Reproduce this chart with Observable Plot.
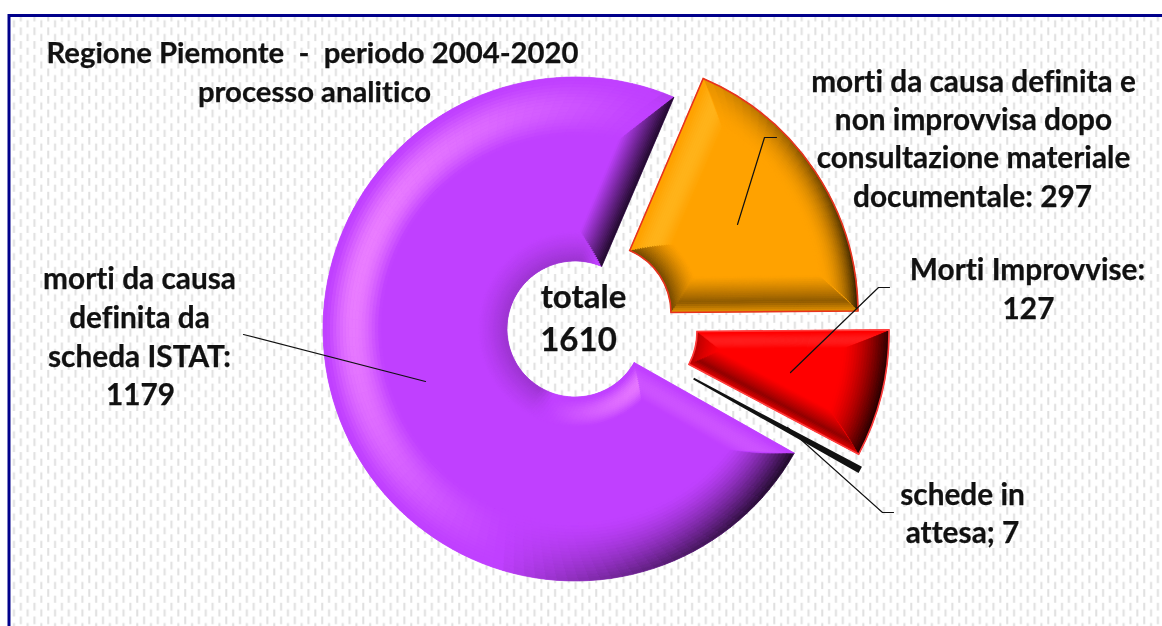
<!DOCTYPE html>
<html>
<head>
<meta charset="utf-8">
<script src="https://cdn.jsdelivr.net/npm/d3@7"></script>
<script src="https://cdn.jsdelivr.net/npm/@observablehq/plot@0.6"></script>
<style>
html,body{margin:0;padding:0;background:#fff;}
svg{display:block;}
</style>
</head>
<body>
<div id="chart"></div>
<script>
// ---- data ----
const categories = [
  "morti da causa definita da scheda ISTAT",
  "morti da causa definita e non improvvisa dopo consultazione materiale documentale",
  "Morti Improvvise",
  "schede in attesa"
];
const values = [1179, 297, 127, 7];
const total = 1610;

// ---- layout (chart space, px) ----
const W = 1162, H = 626;
const firstAngle = 119.5 * Math.PI / 180;
const holes = [68, 68, 69, 68];
const radii = [252, 255, 261, 258];
const centers = [[575, 329], [603, 313], [628, 332], [634, 346]];
const colors = ["#c040ff", "#ffa200", "#ff0000", "#111111"];
const lights = ["#ff9cff", "#ffe060", "#ff9090", "#111111"];
const outlines = [null, "#e8321e", "#ff3b3b", null];
const bevels = [
  {bo: 58, bi: 30, b0: 30, b1: 34, s0: 0.3, s1: -0.9, glow: 0.7, po: 1.4, ps: 1.0, lift: false, inner: s => Math.max(s, -0.2)},
  {bo: 36, bi: 30, b0: 38, b1: 36, s0: 0.55, s1: -0.72, glow: 0.5, po: 2.2, ps: 1.2, lift: true, inner: () => -0.6},
  {bo: 46, bi: 24, b0: 18, b1: 26, s0: 0.4, s1: -0.72, glow: 0.5, po: 1.5, ps: 1.2, lift: true, inner: () => -0.3},
  null
];
const titleLines = [
  {t: "Regione Piemonte  -  periodo 2004-2020", x: 312, y: 53},
  {t: "processo analitico", x: 314, y: 92}
];
const labelLines = [
  {t: "morti da causa definita e", x: 973, y: 82},
  {t: "non improvvisa dopo", x: 973, y: 120},
  {t: "consultazione materiale", x: 973, y: 158},
  {t: "documentale: 297", x: 972, y: 197},
  {t: "Morti Improvvise:", x: 1027, y: 270},
  {t: "127", x: 1028, y: 309},
  {t: "schede in", x: 962, y: 495},
  {t: "attesa; 7", x: 962, y: 533},
  {t: "morti da causa", x: 139, y: 279},
  {t: "definita da", x: 139, y: 318},
  {t: "scheda ISTAT:", x: 139, y: 357},
  {t: "1179", x: 140, y: 395}
];
const centerLines = [
  {t: "totale", x: 583, y: 297},
  {t: String(total), x: 578, y: 340}
];
const leaders = [
  {k: 0, x: 243, y: 334}, {k: 0, x: 425, y: 381},
  {k: 1, x: 737, y: 224}, {k: 1, x: 764, y: 137}, {k: 1, x: 776, y: 137},
  {k: 2, x: 790, y: 372}, {k: 2, x: 878, y: 287}, {k: 2, x: 889, y: 287},
  {k: 3, x: 787, y: 427}, {k: 3, x: 882, y: 512}, {k: 3, x: 893, y: 512}
];

// ---- slices ----
const arcs = d3.pie().sort(null).startAngle(firstAngle).endAngle(firstAngle + 2 * Math.PI)(values);
const slices = arcs.map((a, i) => ({
  name: categories[i], value: a.value, a0: a.startAngle, a1: a.endAngle, R: radii[i], r: holes[i],
  cx: centers[i][0], cy: centers[i][1], color: colors[i], light: lights[i], outline: outlines[i], bevel: bevels[i]
}));

const L = [-0.9, -0.3];
function shade(base, light, s, t, glow, pow, lift) {
  if (s >= 0) {
    const hump = Math.pow(Math.sin(Math.PI * Math.min(1, t * 1.05)), 1.2);
    return d3.interpolateRgb(base, light)(glow * s * hump);
  }
  let f = Math.pow(t, pow);
  if (lift && t > 0.72) f = Math.pow(0.72, pow) * (1 - 0.75 * (t - 0.72) / 0.28);
  return d3.interpolateRgb(base, "#000000")(0.92 * Math.min(1, -s) * f);
}
function sliceRender(index, scales, values, dims, ctx) {
  const g = d3.create("svg:g");
  const k = scales.x(1) - scales.x(0);
  for (const i of index) {
    const d = slices[i], cx = values.x[i], cy = values.y[i], R = d.R, r = d.r;
    const P = (rho, th) => [cx + k * rho * Math.sin(th), cy - k * rho * Math.cos(th)];
    const quad = (pts, fill) => g.append("path")
      .attr("d", "M" + pts.map(p => p[0].toFixed(2) + "," + p[1].toFixed(2)).join("L") + "Z")
      .attr("fill", fill).attr("stroke", fill).attr("stroke-width", 0.7);
    const arc = d3.arc();
    const full = arc({innerRadius: r * k, outerRadius: R * k, startAngle: d.a0, endAngle: d.a1});
    g.append("path").attr("transform", `translate(${cx},${cy})`).attr("d", full).attr("fill", d.color);
    const b = d.bevel;
    if (b) {
      const M = 18;
      const lerp = (u, v, t) => u + (v - u) * t;
      const ro = R - b.bo, ri = r + b.bi;
      const N = Math.ceil((d.a1 - d.a0) / (2.5 * Math.PI / 180));
      for (let m = 0; m < M; m++) {
        const t0 = m / M, t1 = (m + 1) / M, tm = (t0 + t1) / 2;
        for (let n = 0; n < N; n++) {
          const u0 = n / N, u1 = (n + 1) / N, um = (u0 + u1) / 2;
          const th = (t, u) => lerp(lerp(d.a0 + b.b0 / ro, d.a0, t), lerp(d.a1 - b.b1 / ro, d.a1, t), u);
          const rh = t => lerp(ro, R, t);
          const tm_ = th(tm, um);
          const s = Math.sin(tm_) * L[0] - Math.cos(tm_) * L[1];
          quad([P(rh(t0), th(t0, u0)), P(rh(t1), th(t1, u0)), P(rh(t1), th(t1, u1)), P(rh(t0), th(t0, u1))],
            shade(d.color, d.light, s, tm, b.glow, b.po, false));
          const thi = (t, u) => lerp(lerp(d.a0 + b.b0 / ri, d.a0, t), lerp(d.a1 - b.b1 / ri, d.a1, t), u);
          const rhi = t => lerp(ri, r, t);
          const ti = thi(tm, um);
          const si = b.inner(-(Math.sin(ti) * L[0] - Math.cos(ti) * L[1]));
          quad([P(rhi(t0), thi(t0, u0)), P(rhi(t1), thi(t1, u0)), P(rhi(t1), thi(t1, u1)), P(rhi(t0), thi(t0, u1))],
            shade(d.color, d.light, si, tm, b.glow, 1.3, false));
        }
        const side = (edge, sign, bw, s) => {
          const ai = P(ri, edge + sign * bw / ri), ao = P(ro, edge + sign * bw / ro);
          const ei = P(r, edge), eo = P(R, edge);
          const mix = (p, q, t) => [lerp(p[0], q[0], t), lerp(p[1], q[1], t)];
          quad([mix(ai, ei, t0), mix(ao, eo, t0), mix(ao, eo, t1), mix(ai, ei, t1)],
            shade(d.color, d.light, s, tm, b.glow, b.ps, b.lift));
        };
        side(d.a0, 1, b.b0, b.s0);
        side(d.a1, -1, b.b1, b.s1);
      }
    }
    if (d.outline) {
      g.append("path").attr("transform", `translate(${cx},${cy})`).attr("d", full)
        .attr("fill", "none").attr("stroke", d.outline).attr("stroke-width", 1.6);
    }
  }
  return g.node();
}

function patternDefs() {
  const g = d3.create("svg:defs");
  const p = g.append("pattern").attr("id", "dashes").attr("patternUnits", "userSpaceOnUse")
    .attr("width", 13.7).attr("height", 13.7);
  p.append("rect").attr("width", 13.7).attr("height", 13.7).attr("fill", "#ffffff");
  p.append("rect").attr("x", 6.1).attr("y", -0.3).attr("width", 2).attr("height", 8).attr("fill", "#e0e0e0");
  p.append("rect").attr("x", -0.75).attr("y", 6.55).attr("width", 2).attr("height", 8).attr("fill", "#e0e0e0");
  p.append("rect").attr("x", 12.95).attr("y", 6.55).attr("width", 2).attr("height", 8).attr("fill", "#e0e0e0");
  return g.node();
}

const font = "Lato, Carlito, Calibri, sans-serif";
const textStyle = {fontWeight: 700, fill: "#111111", stroke: "#111111", strokeWidth: 0.25};
const chart = Plot.plot({
  width: W, height: H,
  margin: 0,
  style: {background: "#ffffff", fontFamily: font, filter: "blur(0.55px)", fontVariantLigatures: "none"},
  x: {domain: [0, W], range: [0, W], axis: null},
  y: {domain: [0, H], range: [0, H], axis: null},
  marks: [
    patternDefs,
    Plot.rect([0], {x1: () => 9, y1: () => 15.5, x2: () => 1180, y2: () => 650,
      fill: "url(#dashes)", stroke: "#00008b", strokeWidth: 3}),
    Plot.dot(slices, {x: "cx", y: "cy", render: sliceRender}),
    Plot.line(leaders, {x: "x", y: "y", z: "k", stroke: "#111111", strokeWidth: 1.2}),
    Plot.text(titleLines, {x: "x", y: "y", text: "t", fontSize: 29.3, ...textStyle}),
    Plot.text(labelLines, {x: "x", y: "y", text: "t", fontSize: 29.8, ...textStyle}),
    Plot.text(centerLines, {x: "x", y: "y", text: "t", fontSize: 33, ...textStyle})
  ]
});
document.getElementById("chart").appendChild(chart);
</script>
</body>
</html>
